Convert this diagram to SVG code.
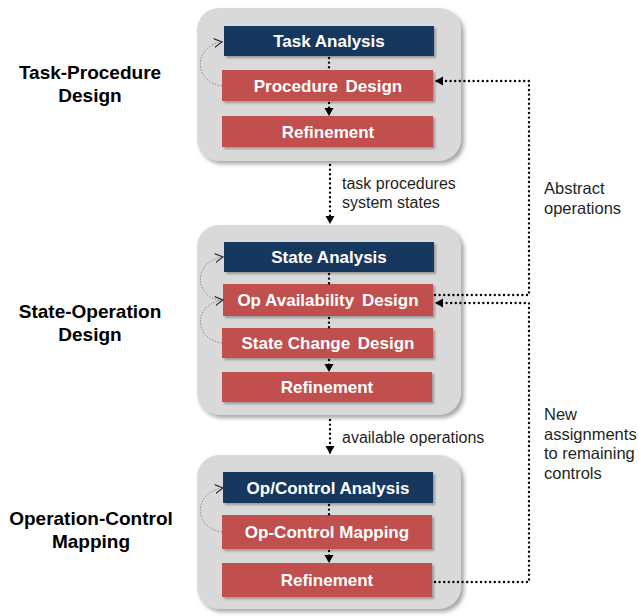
<svg xmlns="http://www.w3.org/2000/svg" width="639" height="616" viewBox="0 0 639 616">
  <defs>
    <filter id="panelShadow" x="-10%" y="-10%" width="125%" height="125%">
      <feDropShadow dx="3" dy="3" stdDeviation="2" flood-color="#7f7f7f" flood-opacity="0.7"/>
    </filter>
    <filter id="boxShadow" x="-5%" y="-20%" width="115%" height="150%">
      <feDropShadow dx="2" dy="2" stdDeviation="1" flood-color="#595959" flood-opacity="0.5"/>
    </filter>
    <marker id="arrowHead" markerUnits="userSpaceOnUse" markerWidth="10" markerHeight="10" refX="8" refY="4.5" orient="auto">
      <path d="M0,0 L8,4.5 L0,9 Z" fill="#000"/>
    </marker>
    <marker id="openHead" markerUnits="userSpaceOnUse" markerWidth="12" markerHeight="12" refX="8" refY="5" orient="auto">
      <path d="M0,0.5 L8,5 L0,9.5" fill="none" stroke="#333" stroke-width="1.2"/>
    </marker>
  </defs>
  <style>
    .panel { fill: #d9d9d9; filter: url(#panelShadow); }
    .navy { fill: #17375e; filter: url(#boxShadow); }
    .red { fill: #c0504d; filter: url(#boxShadow); }
    .boxText { font-family: "Liberation Sans", Arial, sans-serif; font-weight: bold; font-size: 17px; fill: #fff; text-anchor: middle; }
    .phase { font-family: "Liberation Sans", Arial, sans-serif; font-weight: bold; font-size: 19px; fill: #000; text-anchor: middle; }
    .note { font-family: "Liberation Sans", Arial, sans-serif; font-size: 16px; fill: #1f1f1f; }
    .side { font-family: "Liberation Sans", Arial, sans-serif; font-size: 16.5px; fill: #1f1f1f; }
    .dots { fill: none; stroke: #000; stroke-width: 2.4; stroke-dasharray: 0 4.6; stroke-linecap: round; }
    .loop { fill: none; stroke: #8c8c8c; stroke-width: 1; stroke-dasharray: 1.5 1.5; }
  </style>

  <!-- phase panels -->
  <g id="panel-task-procedure">
    <rect class="panel" x="197" y="8" width="264" height="153" rx="22"/>
  </g>
  <g id="panel-state-operation">
    <rect class="panel" x="197" y="225" width="264" height="190" rx="22"/>
  </g>
  <g id="panel-operation-control">
    <rect class="panel" x="197" y="455" width="264" height="154" rx="22"/>
  </g>

  <!-- phase titles -->
  <g id="label-task-procedure">
    <text class="phase" x="90" y="79">Task-Procedure</text>
    <text class="phase" x="90" y="102">Design</text>
  </g>
  <g id="label-state-operation">
    <text class="phase" x="90" y="318">State-Operation</text>
    <text class="phase" x="90" y="341">Design</text>
  </g>
  <g id="label-operation-control">
    <text class="phase" x="91" y="525">Operation-Control</text>
    <text class="phase" x="91" y="548">Mapping</text>
  </g>

  <!-- activity boxes -->
  <g id="task-analysis">
    <rect class="navy" x="224" y="26" width="210" height="30"/>
    <text class="boxText" x="329" y="47">Task Analysis</text>
  </g>
  <g id="procedure-design">
    <rect class="red" x="222" y="70" width="211" height="31"/>
    <text class="boxText" x="328" y="92">Procedure <tspan dx="3">Design</tspan></text>
  </g>
  <g id="refinement-1">
    <rect class="red" x="222" y="116" width="211" height="31"/>
    <text class="boxText" x="328" y="138">Refinement</text>
  </g>

  <g id="state-analysis">
    <rect class="navy" x="224" y="242" width="210" height="30"/>
    <text class="boxText" x="329" y="263">State Analysis</text>
  </g>
  <g id="op-availability-design">
    <rect class="red" x="223" y="284" width="210" height="32"/>
    <text class="boxText" x="328" y="306">Op Availability <tspan dx="3">Design</tspan></text>
  </g>
  <g id="state-change-design">
    <rect class="red" x="222" y="328" width="211" height="30"/>
    <text class="boxText" x="328" y="349">State Change <tspan dx="3">Design</tspan></text>
  </g>
  <g id="refinement-2">
    <rect class="red" x="222" y="372" width="210" height="30"/>
    <text class="boxText" x="327" y="393">Refinement</text>
  </g>

  <g id="op-control-analysis">
    <rect class="navy" x="223" y="472" width="210" height="31"/>
    <text class="boxText" x="328" y="494">Op/Control Analysis</text>
  </g>
  <g id="op-control-mapping">
    <rect class="red" x="222" y="515" width="210" height="34"/>
    <text class="boxText" x="327" y="538">Op-Control Mapping</text>
  </g>
  <g id="refinement-3">
    <rect class="red" x="222" y="563" width="210" height="34"/>
    <text class="boxText" x="327" y="586">Refinement</text>
  </g>

  <!-- connectors -->
  <g id="connectors">
    <!-- flow inside panels -->
    <path class="dots" d="M329,58 L329,70"/>
    <path class="dots" d="M329,103 L329,116" marker-end="url(#arrowHead)"/>
    <path class="dots" d="M329,274 L329,284"/>
    <path class="dots" d="M329,318 L329,328"/>
    <path class="dots" d="M329,360 L329,372" marker-end="url(#arrowHead)"/>
    <path class="dots" d="M329,505 L329,515"/>
    <path class="dots" d="M329,551 L329,563" marker-end="url(#arrowHead)"/>

    <!-- flow between panels -->
    <path class="dots" d="M330,165 L330,224" marker-end="url(#arrowHead)"/>
    <path class="dots" d="M330,420 L330,454" marker-end="url(#arrowHead)"/>

    <!-- feedback loops on the right -->
    <path class="dots" d="M435,582 L529,582 L529,303 L435,303" marker-end="url(#arrowHead)"/>
    <path class="dots" d="M435,295 L529,295 L529,81 L435,81" marker-end="url(#arrowHead)"/>

    <!-- iteration loops on the left -->
    <path class="loop" d="M222,86 C193,82 193,46 222,42" marker-end="url(#openHead)"/>
    <path class="loop" d="M222,301 C193,297 193,261 223,257" marker-end="url(#openHead)"/>
    <path class="loop" d="M222,343 C193,339 193,304 223,300" marker-end="url(#openHead)"/>
    <path class="loop" d="M222,532 C193,528 193,492 223,488" marker-end="url(#openHead)"/>
  </g>

  <!-- connector labels -->
  <g id="label-task-procedures">
    <text class="note" x="342" y="189">task procedures</text>
    <text class="note" x="342" y="208">system states</text>
  </g>
  <g id="label-available-operations">
    <text class="note" x="342" y="443">available operations</text>
  </g>
  <g id="label-abstract-operations">
    <text class="side" x="544" y="194">Abstract</text>
    <text class="side" x="544" y="214">operations</text>
  </g>
  <g id="label-new-assignments">
    <text class="side" x="544" y="420">New</text>
    <text class="side" x="544" y="440">assignments</text>
    <text class="side" x="544" y="459">to remaining</text>
    <text class="side" x="544" y="479">controls</text>
  </g>
</svg>
